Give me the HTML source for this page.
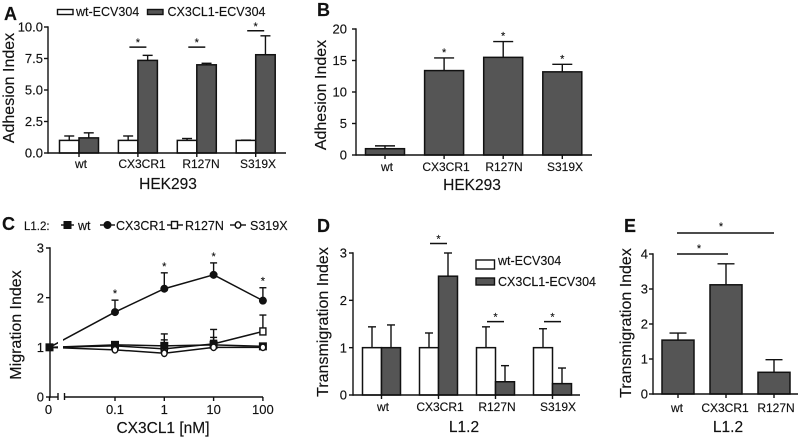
<!DOCTYPE html>
<html>
<head>
<meta charset="utf-8">
<style>
html,body{margin:0;padding:0;background:#fff;}
svg{display:block;filter:blur(0.35px);}
text{font-family:"Liberation Sans",sans-serif;fill:#111;stroke:#111;stroke-width:0.15px;}
</style>
</head>
<body>
<svg id="fig" xmlns="http://www.w3.org/2000/svg" width="798" height="438" viewBox="0 0 798 438"></svg>
<script>
// Panel A
const catsA = ['wt','CX3CR1','R127N','S319X'];
const ticksA = [0,2.5,5,7.5,10];
const whiteA = [1,1,1,1];
const whiteTopA = [1.35,1.35,1.15,1.02];
const darkA = [1.2,7.35,7.0,7.8];
const darkTopA = [1.6,7.75,7.12,9.3];
const sigA = [null,8.4,8.4,9.7];
// Panel B
const catsB = ['wt','CX3CR1','R127N','S319X'];
const ticksB = [0,5,10,15,20];
const valuesB = [1,13.4,15.5,13.2];
const topsB = [1.45,15.4,18,14.4];
// Panel C
const dosesC = [0,0.1,1,10,100];
const doseLabelsC = ['0','0.1','1','10','100'];
const ticksC = [0,1,2,3];
const wtC = [1,1.05,1.03,1.05,1.02];
const wtTopC = [1,1.1,1.15,1.2,1.06];
const cx3cr1C = [1,1.71,2.18,2.46,1.94];
const cx3cr1TopC = [1,1.95,2.5,2.7,2.2];
const r127nC = [1,1.03,0.97,1.07,1.32];
const r127nTopC = [1,1.08,1.27,1.36,1.65];
const s319xC = [1,0.95,0.88,1.0,1.0];
const s319xTopC = [1,0.98,0.93,1.03,1.03];
// Panel D
const catsD = ['wt','CX3CR1','R127N','S319X'];
const ticksD = [0,1,2,3];
const whiteD = [1,1,1,1];
const whiteTopD = [1.44,1.31,1.44,1.4];
const darkD = [1,2.51,0.28,0.24];
const darkTopD = [1.48,3.0,0.62,0.57];
const sigD = [null,3.2,1.55,1.55];
// Panel E
const catsE = ['wt','CX3CR1','R127N'];
const ticksE = [0,1,2,3,4];
const valuesE = [1.54,3.12,0.62];
const topsE = [1.74,3.72,0.98];

const NS = 'http://www.w3.org/2000/svg';
const fig = document.getElementById('fig');
const DARK = '#555555';

function mk(tag, props, parent){
  const el = document.createElementNS(NS, tag);
  for (const k in props) el.setAttribute(k, props[k]);
  (parent || fig).appendChild(el);
  return el;
}
function line(x1,y1,x2,y2,w,name){
  const el = mk('line',{x1:x1,y1:y1,x2:x2,y2:y2,stroke:'#111','stroke-width':w||1.4});
  
  
  return el;
}
function label(x,y,str,size,anchor,name,weight,rot){
  const props = {x:x,y:y,'font-size':size,'text-anchor':anchor||'middle'};
  if (weight) props['font-weight'] = weight;
  if (rot) props.transform = 'rotate(-90 '+x+' '+y+')';
  const el = mk('text',props);
  el.textContent = str;
  
  
  return el;
}
function bar(x,w,y0,y,fill,name){
  const el = mk('rect',{x:x,y:y,width:w,height:y0-y,fill:fill,stroke:'#111','stroke-width':1.5});
  
  
  return el;
}
function errorBar(x,yFrom,yTo,cap,name){
  line(x,yFrom,x,yTo,1.4,name);
  line(x-cap/2,yTo,x+cap/2,yTo,1.4,name+'-cap');
}
function yAxis(x,scale,ticks,fmt,labelX,size,name){
  line(x,scale(ticks[ticks.length-1])-0.7,x,scale(ticks[0])+0.7,1.4,name);
  ticks.forEach(function(t){
    line(x-4,scale(t),x,scale(t),1.4,name+'-tick');
    label(labelX,scale(t)+size*0.36,fmt(t),size,'end',name+'-tick-label');
  });
}
function linear(v0,px0,v1,px1){
  return function(v){ return px0+(v-v0)*(px1-px0)/(v1-v0); };
}
function star(x,y,name){
  label(x,y,'*',11,'middle',name);
}
function categoryAxis(x0,x1,y,centers,cats,labelY,name,labelXs){
  line(x0,y,x1,y,1.4,name);
  centers.forEach(function(c,i){
    line(c,y,c,y+4,1.4,name+'-tick');
    label(labelXs?labelXs[i]:c,labelY,cats[i],12,'middle',name+'-label');
  });
}
function groupedBars(p){
  const y0 = p.scale(0);
  p.cats.forEach(function(c,i){
    const cx = p.first+i*p.step;
    errorBar(cx-p.w/2,p.scale(p.white[i]),p.scale(p.whiteTop[i]),p.cap,'error-bar-white-'+c);
    errorBar(cx+p.w/2,p.scale(p.dark[i]),p.scale(p.darkTop[i]),p.cap,'error-bar-dark-'+c);
    bar(cx-p.w,p.w,y0,p.scale(p.white[i]),'#fff','bar-white-'+c);
    bar(cx,p.w,y0,p.scale(p.dark[i]),DARK,'bar-dark-'+c);
    if (p.sig[i]!==null){
      const sy = p.scale(p.sig[i]);
      line(cx-8.5,sy,cx+8.5,sy,1.5,'significance-line-'+c);
      star(cx,sy-1,'significance-star-'+c);
    }
  });
}

/* PANEL A */
const yA = linear(0,153,10,27);
const cxA = catsA.map(function(c,i){return 79+i*58.9;});
groupedBars({cats:catsA,first:79,step:58.9,w:19.5,cap:10,scale:yA,white:whiteA,whiteTop:whiteTopA,dark:darkA,darkTop:darkTopA,sig:sigA});
yAxis(48,yA,ticksA,function(t){return t.toFixed(1);},43,13,'a-y-axis');
categoryAxis(48,286,153,cxA,catsA,168,'a-x-axis',[81,142,201,258]);

/* PANEL B */
const yB = linear(0,155,20,29);
const cxB = catsB.map(function(c,i){return 385+i*59.1;});
catsB.forEach(function(c,i){
  errorBar(cxB[i],yB(valuesB[i]),yB(topsB[i]),20,'b-error-bar-'+c);
  bar(cxB[i]-19.5,39,yB(0),yB(valuesB[i]),DARK,'b-bar-'+c);
  if (i>0) star(cxB[i],yB(topsB[i])-2,'b-significance-star-'+c);
});
yAxis(356,yB,ticksB,function(t){return String(t);},347,13,'b-y-axis');
categoryAxis(356,592,155,cxB,catsB,171,'b-x-axis',[387,446,504,565]);

/* PANEL C */
const yC = linear(0,397,3,248);
function xC(d){
  if (d===0) return 49.5;
  return 115+49.3*Math.log10(d/0.1);
}
mk('clipPath',{id:'c-clip'},mk('defs',{}));
const clipC = fig.querySelector('#c-clip');
mk('rect',{x:40,y:240,width:18,height:160},clipC);
mk('rect',{x:63,y:240,width:210,height:160},clipC);
function seriesC(vals,tops,name,kind){
  const g = mk('g',{'clip-path':'url(#c-clip)'});
  
  
  const pl = mk('polyline',{points:dosesC.map(function(d,i){return xC(d)+','+yC(vals[i]);}).join(' '),fill:'none',stroke:'#111','stroke-width':1.5},g);
  
  
  dosesC.forEach(function(d,i){
    if (i===0) return;
    errorBar(xC(d),yC(vals[i]),yC(tops[i]),7,name+'-error-bar');
    marker(xC(d),yC(vals[i]),kind,name+'-marker');
  });
}
function marker(x,y,kind,name){
  let el;
  if (kind==='square') el = mk('rect',{x:x-3.5,y:y-3.5,width:7,height:7,fill:'#111',stroke:'#111'});
  if (kind==='open-square') el = mk('rect',{x:x-3,y:y-3.5,width:6,height:7,fill:'#fff',stroke:'#111','stroke-width':1.4});
  if (kind==='circle') el = mk('circle',{cx:x,cy:y,r:3.5,fill:'#111',stroke:'#111'});
  if (kind==='open-circle') el = mk('ellipse',{cx:x,cy:y,rx:2.8,ry:3.2,fill:'#fff',stroke:'#111','stroke-width':1.4});
  
  
}
seriesC(r127nC,r127nTopC,'r127n','open-square');
seriesC(wtC,wtTopC,'wt','square');
seriesC(s319xC,s319xTopC,'s319x','open-circle');
seriesC(cx3cr1C,cx3cr1TopC,'cx3cr1','circle');
marker(xC(0),yC(1),'square','zero-dose-marker');
dosesC.forEach(function(d,i){
  if (i>0) star(xC(d),yC(cx3cr1TopC[i])-3,'c-significance-star');
});
yAxis(50,yC,ticksC,function(t){return String(t);},44,13,'c-y-axis');
line(49,397,58,397,1.4,'c-x-axis-left');
line(58,393,58,400,1.4,'c-x-axis-break-left');
line(64.5,397,263,397,1.4,'c-x-axis-right');
line(64.5,393,64.5,400,1.4,'c-x-axis-break-right');
dosesC.forEach(function(d,i){
  line(xC(d),397,xC(d),401,1.4,'c-x-axis-tick');
  label(xC(d)-(i===0?1:0),414,doseLabelsC[i],13,'middle','c-x-axis-label');
});

/* PANEL D */
const yD = linear(0,395,3,253);
const cxD = catsD.map(function(c,i){return 381.5+i*57;});
groupedBars({cats:catsD,first:381.5,step:57,w:19,cap:8,scale:yD,white:whiteD,whiteTop:whiteTopD,dark:darkD,darkTop:darkTopD,sig:sigD});
yAxis(353,yD,ticksD,function(t){return String(t);},347,13,'d-y-axis');
categoryAxis(353,580,395,cxD,catsD,411,'d-x-axis',[383,440,497,558]);

/* PANEL E */
const yE = linear(0,394,4,254);
const cxE = catsE.map(function(c,i){return 678+i*48;});
catsE.forEach(function(c,i){
  errorBar(cxE[i],yE(valuesE[i]),yE(topsE[i]),17,'e-error-bar-'+c);
  bar(cxE[i]-16,32,yE(0),yE(valuesE[i]),DARK,'e-bar-'+c);
});
yAxis(653,yE,ticksE,function(t){return String(t);},648,13,'e-y-axis');
categoryAxis(653,798,394,cxE,catsE,412,'e-x-axis',[677,725,776]);
line(677,254,728,254,1.5,'e-significance-line-cx3cr1');
star(699,252,'e-significance-star-cx3cr1');
line(677,233,774,233,1.5,'e-significance-line-r127n');
star(721,230,'e-significance-star-r127n');
</script>
<script>
/* Static titles, panel letters and legends */
(function(){
  function swatch(x,y,w,h,fill,name){
    const el = mk('rect',{x:x,y:y,width:w,height:h,fill:fill,stroke:'#111','stroke-width':1.4});
    
    
  }
  label(4,20,'A',18,'start','panel-a-letter','bold');
  label(317,16,'B',18,'start','panel-b-letter','bold');
  label(2,230,'C',18,'start','panel-c-letter','bold');
  label(317,232,'D',18,'start','panel-d-letter','bold');
  label(624,232,'E',18,'start','panel-e-letter','bold');

  label(14,88,'Adhesion Index',16,'middle','a-y-axis-title',null,true);
  label(168,189,'HEK293',15.5,'middle','a-x-axis-title');
  label(326,95,'Adhesion Index',16,'middle','b-y-axis-title',null,true);
  label(472,190,'HEK293',15.5,'middle','b-x-axis-title');
  label(21,325,'Migration Index',16,'middle','c-y-axis-title',null,true);
  label(163,433,'CX3CL1 [nM]',15.5,'middle','c-x-axis-title');
  label(328,322,'Transmigration Index',16,'middle','d-y-axis-title',null,true);
  label(464,432,'L1.2',15.5,'middle','d-x-axis-title');
  label(631,323,'Transmigration Index',16,'middle','e-y-axis-title',null,true);
  label(728,432,'L1.2',15.5,'middle','e-x-axis-title');

  swatch(57.5,9.5,15.5,5,'#fff','a-legend-swatch-wt');
  label(76,16,'wt-ECV304',12.5,'start','a-legend-label-wt');
  swatch(147.5,9.5,15.5,5,DARK,'a-legend-swatch-cx3cl1');
  label(167.5,16,'CX3CL1-ECV304',12.5,'start','a-legend-label-cx3cl1');

  swatch(476,260,18.5,9,'#fff','d-legend-swatch-wt');
  label(498,265,'wt-ECV304',12.5,'start','d-legend-label-wt');
  swatch(476,278,18.5,7,DARK,'d-legend-swatch-cx3cl1');
  label(498,286,'CX3CL1-ECV304',12.5,'start','d-legend-label-cx3cl1');

  label(24,230,'L1.2:',11.5,'start','c-legend-title');
  line(61,225,74,225,1.4,'c-legend-line-wt');
  marker(67.5,225,'square','c-legend-marker-wt');
  label(78,230,'wt',12.5,'start','c-legend-label-wt');
  line(100,225,115,225,1.4,'c-legend-line-cx3cr1');
  marker(107.5,225,'circle','c-legend-marker-cx3cr1');
  label(116,230,'CX3CR1',12.5,'start','c-legend-label-cx3cr1');
  line(167,225,183,225,1.4,'c-legend-line-r127n');
  marker(174.5,225,'open-square','c-legend-marker-r127n');
  label(185,230,'R127N',12.5,'start','c-legend-label-r127n');
  line(230,225,246,225,1.4,'c-legend-line-s319x');
  marker(238,225,'open-circle','c-legend-marker-s319x');
  label(250,230,'S319X',12.5,'start','c-legend-label-s319x');
})();
</script>
</body>
</html>
